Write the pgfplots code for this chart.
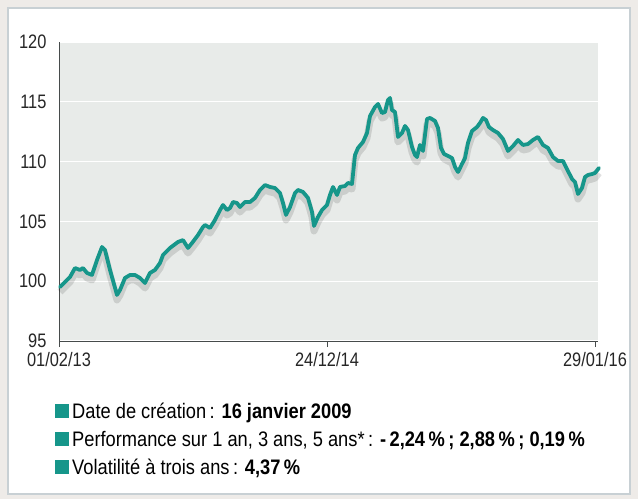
\documentclass[border=0pt]{standalone}
\usepackage{fontspec}
\setmainfont{Liberation Sans}[FakeStretch=0.87]
\newfontfamily\tickfont{Liberation Sans}[FakeStretch=0.84]
\usepackage{pgfplots}
\usepackage{pgfplotstable}
\pgfplotsset{compat=1.18}
\definecolor{lineteal}{RGB}{22,150,138}
\definecolor{plotbg}{RGB}{232,235,233}
\definecolor{framecol}{RGB}{200,208,212}
\definecolor{outside}{RGB}{238,235,232}
\definecolor{axiscol}{RGB}{70,75,75}

\pgfplotstableread{
x v
60 99.52
65 99.93
70 100.35
75 101.10
80 100.94
83 101.10
87 100.69
92 100.52
97 101.77
102 102.86
105 102.61
110 100.94
117 98.85
120 99.26
125 100.27
130 100.52
135 100.52
140 100.27
145 99.85
150 100.69
155 100.94
160 101.52
163 102.19
170 102.78
178 103.28
183 103.44
188 102.78
192 103.19
198 103.86
203 104.53
205 104.70
210 104.45
215 105.12
220 105.95
223 106.37
227 105.95
230 106.12
233 106.62
237 106.54
240 106.20
245 106.62
250 106.62
255 106.96
260 107.63
265 108.04
270 107.88
275 107.79
280 107.37
283 106.54
286 105.54
290 106.20
295 107.37
298 107.63
303 107.46
308 106.96
312 105.79
314 104.62
318 105.37
322 105.95
327 106.37
330 107.21
333 107.88
337 107.21
340 107.88
345 107.96
348 108.21
352 108.13
355 110.55
358 111.14
363 111.64
367 112.39
370 113.81
375 114.57
378 114.82
382 114.06
385 114.15
388 115.15
390 115.32
392 114.31
395 114.15
398 112.06
402 112.39
405 112.98
408 112.64
412 111.22
415 110.55
417 110.38
420 111.39
423 110.89
427 113.56
430 113.65
435 113.40
438 112.81
441 111.14
444 110.64
448 110.47
452 110.30
455 109.55
458 109.13
462 109.80
465 110.30
468 111.56
472 112.56
477 112.89
480 113.23
483 113.65
486 113.48
489 112.89
493 112.64
498 112.39
503 111.89
508 110.89
513 111.30
518 111.81
523 111.39
528 111.47
533 111.81
538 112.06
543 111.39
548 111.14
553 110.38
558 110.05
563 110.05
568 109.21
572 108.55
575 108.29
578 107.29
582 107.79
585 108.71
588 108.88
592 108.96
595 109.05
599 109.47
}\perfdata

\begin{document}
\begin{tikzpicture}[x=1pt,y=1pt]
\useasboundingbox (0,0) rectangle (638,499);
\fill[outside] (0,0) rectangle (638,499);
\fill[white] (8,5) rectangle (630,491);
\draw[framecol,line width=2pt] (8,5) rectangle (630,491);

\begin{axis}[
  at={(59pt,158pt)}, anchor=south west,
  scale only axis, width=539pt, height=299pt,
  xmin=59, xmax=598, ymin=95, ymax=120,
  axis background/.style={fill=plotbg},
  axis x line*=bottom, axis y line*=left,
  axis line style={axiscol, line width=1pt},
  ytick={95,100,...,120},
  ytick style={draw=none},
  xtick={59,327,595},
  xticklabels={01/02/13,24/12/14,29/01/16},
  xtick style={axiscol, line width=1pt},
  tick align=outside, major tick length=6pt,
  ymajorgrids, grid style={white, line width=1.3pt},
  tick label style={font=\tickfont\fontsize{19.5}{21}\selectfont, text=black!85},
  /pgf/number format/assume math mode=true,
  yticklabel style={xshift=-3pt},
  xticklabel style={yshift=-2pt},
  clip=false,
]
\addplot[no markers, black, opacity=0.12, line width=7pt, yshift=-5pt, line join=round] table[x=x,y=v]{\perfdata};
\addplot[no markers, lineteal, line width=3.8pt, line join=round, line cap=round] table[x=x,y=v]{\perfdata};
\end{axis}

\begin{scope}[every node/.style={anchor=base west, inner sep=0pt, font=\fontsize{21}{24}\selectfont}]
\node at (55,81) {\textcolor{lineteal}{\rule{14pt}{14pt}}\hspace{3pt}Date de création\,: \textbf{16 janvier 2009}};
\node at (55,53) {\textcolor{lineteal}{\rule{14pt}{14pt}}\hspace{3pt}Performance sur 1 an, 3 ans, 5 ans*\,: \textbf{-\,2,24\,\%\,; 2,88\,\%\,; 0,19\,\%}};
\node at (55,25) {\textcolor{lineteal}{\rule{14pt}{14pt}}\hspace{3pt}Volatilité à trois ans\,: \textbf{4,37\,\%}};
\end{scope}
\end{tikzpicture}
\end{document}
